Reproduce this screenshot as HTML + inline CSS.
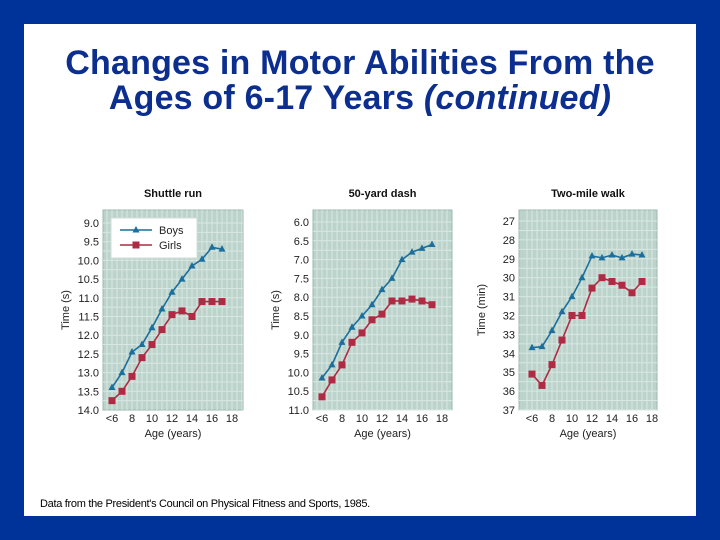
<!DOCTYPE html>
<html><head><meta charset="utf-8"><style>
body{margin:0;width:720px;height:540px;background:#003399;overflow:hidden;font-family:"Liberation Sans",Arial,sans-serif}
#card{position:absolute;left:24px;top:24px;width:672px;height:492px;background:#fff}
#title{position:absolute;left:24px;top:46px;width:672px;text-align:center;color:#0b2e8f;font-size:34px;line-height:35px;font-weight:bold;letter-spacing:0.2px}
#foot{position:absolute;left:40px;top:498px;font-size:11px;color:#000;letter-spacing:-0.3px}
svg{position:absolute;left:0;top:0}
</style></head><body>
<div id="card"></div>
<div id="title">Changes in Motor Abilities From the<br>Ages of 6-17 Years <i>(continued)</i></div>
<svg id="chart" width="720" height="540"></svg>
<div id="foot">Data from the President's Council on Physical Fitness and Sports, 1985.</div>
<script>
const ages=[6,7,8,9,10,11,12,13,14,15,16,17];
const xTickLabels=["<6","8","10","12","14","16","18"];
const xTickValues=[6,8,10,12,14,16,18];
const shuttleBoys=[13.4,13.0,12.45,12.25,11.8,11.3,10.85,10.5,10.15,9.97,9.65,9.7];
const shuttleGirls=[13.75,13.5,13.1,12.6,12.25,11.85,11.45,11.35,11.5,11.1,11.1,11.1];
const shuttleTicks=[9.0,9.5,10.0,10.5,11.0,11.5,12.0,12.5,13.0,13.5,14.0];
const dashBoys=[10.15,9.8,9.2,8.8,8.5,8.2,7.8,7.5,7.0,6.8,6.7,6.6];
const dashGirls=[10.65,10.2,9.8,9.2,8.95,8.6,8.45,8.1,8.1,8.05,8.1,8.2];
const dashTicks=[6.0,6.5,7.0,7.5,8.0,8.5,9.0,9.5,10.0,10.5,11.0];
const walkBoys=[33.7,33.65,32.8,31.8,31.0,30.0,28.85,28.95,28.8,28.95,28.75,28.8];
const walkGirls=[35.1,35.7,34.6,33.3,32.0,32.0,30.55,30.0,30.2,30.4,30.8,30.2];
const walkTicks=[27,28,29,30,31,32,33,34,35,36,37];

const NS="http://www.w3.org/2000/svg";
const svg=document.getElementById('chart');
function mk(tag,attrs,parent){const e=document.createElementNS(NS,tag);for(const k in attrs)e.setAttribute(k,attrs[k]);(parent||svg).appendChild(e);return e;}
const panels=[
 {name:'shuttle-run',title:'Shuttle run',ylab:'Time (s)',boys:shuttleBoys,girls:shuttleGirls,ticks:shuttleTicks,dec:1,L:103,R:243,x6:112,y0:223,y1:410,legend:true},
 {name:'fifty-yard-dash',title:'50-yard dash',ylab:'Time (s)',boys:dashBoys,girls:dashGirls,ticks:dashTicks,dec:1,L:313,R:452,x6:322,y0:222,y1:410},
 {name:'two-mile-walk',title:'Two-mile walk',ylab:'Time (min)',boys:walkBoys,girls:walkGirls,ticks:walkTicks,dec:0,L:519,R:657,x6:532,y0:221,y1:410}
];
panels.forEach(p=>{
 const g=mk('g',{});
 
 
 const T=210,B=410;
 const tmin=p.ticks[0],tmax=p.ticks[p.ticks.length-1];
 const sx=v=>p.x6+(v-6)*10;
 const sy=v=>p.y0+(v-tmin)/(tmax-tmin)*(p.y1-p.y0);
 const bg=mk('rect',{x:p.L,y:T,width:p.R-p.L,height:B-T,fill:'#bcd3cb',stroke:'#9bb8ae','stroke-width':1},g);
 
 
 for(let x=p.x6-5;x<p.R;x+=5)mk('line',{x1:x,x2:x,y1:T,y2:B,stroke:'#d9e7e2','stroke-width':1},g);
 const step=(p.y1-p.y0)/((p.ticks.length-1)*2);
 for(let y=p.y0;y<B;y+=step)mk('line',{x1:p.L,x2:p.R,y1:y,y2:y,stroke:'#d9e7e2','stroke-width':1},g);
 const tt=mk('text',{x:(p.L+p.R)/2,y:197,'text-anchor':'middle','font-size':11,'font-weight':'bold',fill:'#111'},g);
 tt.textContent=p.title;
 
 
 p.ticks.forEach(t=>{const e=mk('text',{x:p.L-4,y:sy(t)+4,'text-anchor':'end','font-size':11,fill:'#222'},g);e.textContent=t.toFixed(p.dec);
  
  });
 xTickValues.forEach((v,i)=>{const e=mk('text',{x:sx(v),y:422,'text-anchor':'middle','font-size':11,fill:'#222'},g);e.textContent=xTickLabels[i];
  
  });
 const xl=mk('text',{x:(p.L+p.R)/2,y:437,'text-anchor':'middle','font-size':11,fill:'#222'},g);xl.textContent='Age (years)';
 
 
 const yx=p.L-34;
 const yl=mk('text',{x:yx,y:(T+B)/2,'text-anchor':'middle','font-size':11,fill:'#222',transform:`rotate(-90 ${yx} ${(T+B)/2})`},g);yl.textContent=p.ylab;
 
 
 [['boys',p.boys,'#1c6f9c'],['girls',p.girls,'#b02a44']].forEach(([nm,vals,c])=>{
  const pts=vals.map((v,i)=>sx(ages[i])+','+sy(v)).join(' ');
  const pl=mk('polyline',{points:pts,fill:'none',stroke:c,'stroke-width':1.6},g);
  
  
  vals.forEach((v,i)=>{const x=sx(ages[i]),y=sy(v);let m;
   if(nm==='boys')m=mk('polygon',{points:`${x},${y-4} ${x-3.5},${y+2.5} ${x+3.5},${y+2.5}`,fill:c},g);
   else m=mk('rect',{x:x-3.5,y:y-3.5,width:7,height:7,fill:c},g);
   
   });
 });
 if(p.legend){
  const lg=mk('g',{},g);
  
  
  mk('rect',{x:111,y:218,width:86,height:40,fill:'#fff',stroke:'#cfdcd8'},lg);
  mk('line',{x1:120,x2:152,y1:230,y2:230,stroke:'#1c6f9c','stroke-width':1.6},lg);
  mk('polygon',{points:'136,226 132.5,232.5 139.5,232.5',fill:'#1c6f9c'},lg);
  mk('line',{x1:120,x2:152,y1:245,y2:245,stroke:'#b02a44','stroke-width':1.6},lg);
  mk('rect',{x:132.5,y:241.5,width:7,height:7,fill:'#b02a44'},lg);
  const b=mk('text',{x:159,y:234,'font-size':11,fill:'#222'},lg);b.textContent='Boys';
  
  
  const gl=mk('text',{x:159,y:249,'font-size':11,fill:'#222'},lg);gl.textContent='Girls';
  
  
 }
});
</script>
</body></html>
